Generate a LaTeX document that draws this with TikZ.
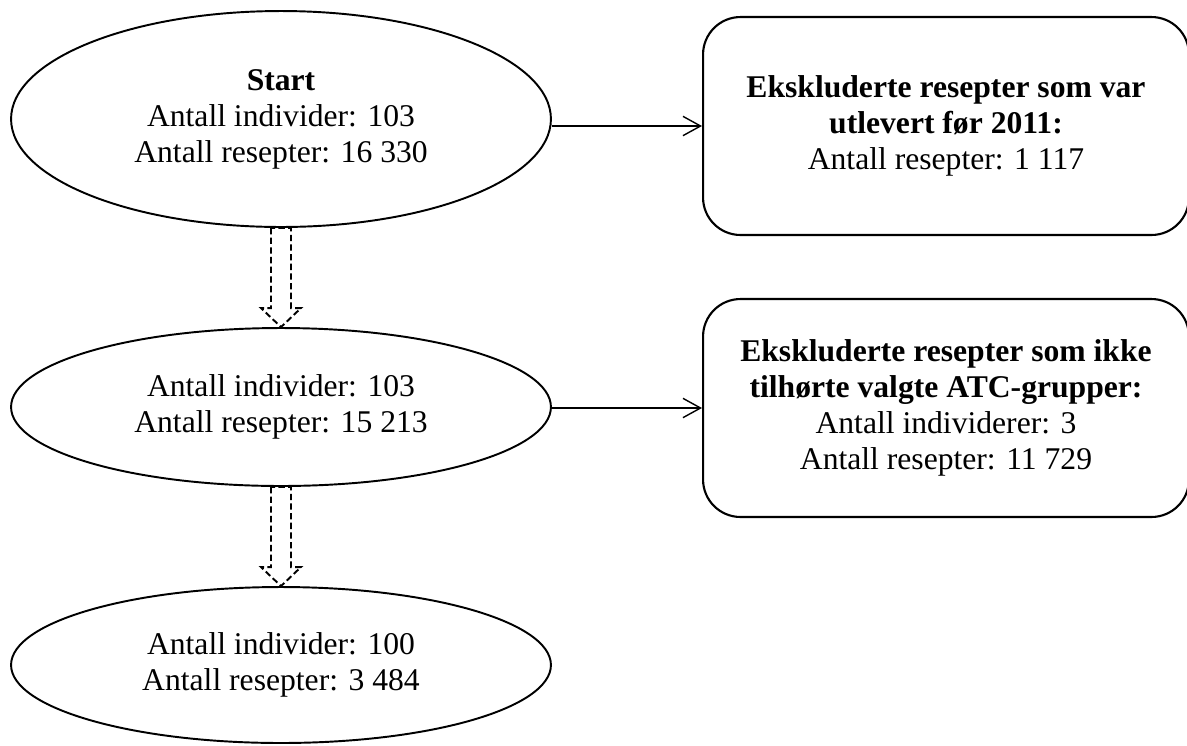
\documentclass[tikz,border=0pt]{standalone}
\usepackage{fontspec}
\setmainfont{Liberation Serif}
\usetikzlibrary{calc,arrows.meta,shapes.geometric}
\def\dasharrow(#1)(#2){\draw[hollow] ($(#1.south)+(-10,0)$) -- ($(#2.north)+(-10,-19)$) -- ++(-10,0) -- (#2.north) -- ++(20,-19) -- ++(-10,0) -- ($(#1.south)+(10,0)$) -- cycle;}

\begin{document}
\begin{tikzpicture}[x=0.02cm, y=-0.02cm,
	oval/.style={draw, ellipse, line width=1.1pt, inner sep=0pt, minimum width=10.8cm, align=center, font=\fontsize{18}{20.5}\selectfont},
	excl/.style={draw, rounded corners=0.75cm, line width=1.2pt, minimum width=9.72cm, minimum height=4.36cm, align=center, font=\fontsize{18}{20.5}\selectfont},
	flow/.style={line width=0.8pt, -{Straight Barb[length=10pt, width=11pt]}},
	hollow/.style={line width=1.1pt, dash pattern=on 3.6pt off 1.9pt}]
		%%%%% START %%%%%
		\useasboundingbox (0, 0) rectangle (1187, 745);
		
		\node[oval, minimum height=4.32cm] (start) at (281, 119) {\textbf{Start}\\Antall individer: 103\\Antall resepter: 16 330};
		\node[oval, minimum height=3.16cm] (step2) at (281, 407) {Antall individer: 103\\Antall resepter: 15 213};
		\node[oval, minimum height=3.12cm] (final) at (281, 665) {Antall individer: 100\\Antall resepter: 3 484};
		
		\node[excl] (excl1) at (946, 126) {\textbf{Ekskluderte resepter som var}\\\textbf{utlevert før 2011:}\\Antall resepter: 1 117};
		\node[excl] (excl2) at (946, 408) {\textbf{Ekskluderte resepter som ikke}\\\textbf{tilhørte valgte ATC-grupper:}\\Antall individerer: 3\\Antall resepter: 11 729};
		
		\draw[flow] (excl1.west -| start.east) -- (excl1.west);
		\draw[flow] (excl2.west -| step2.east) -- (excl2.west);
		
		\dasharrow(start)(step2)
		\dasharrow(step2)(final)
		
		%%%%% END %%%%%
	\end{tikzpicture}
\end{document}
